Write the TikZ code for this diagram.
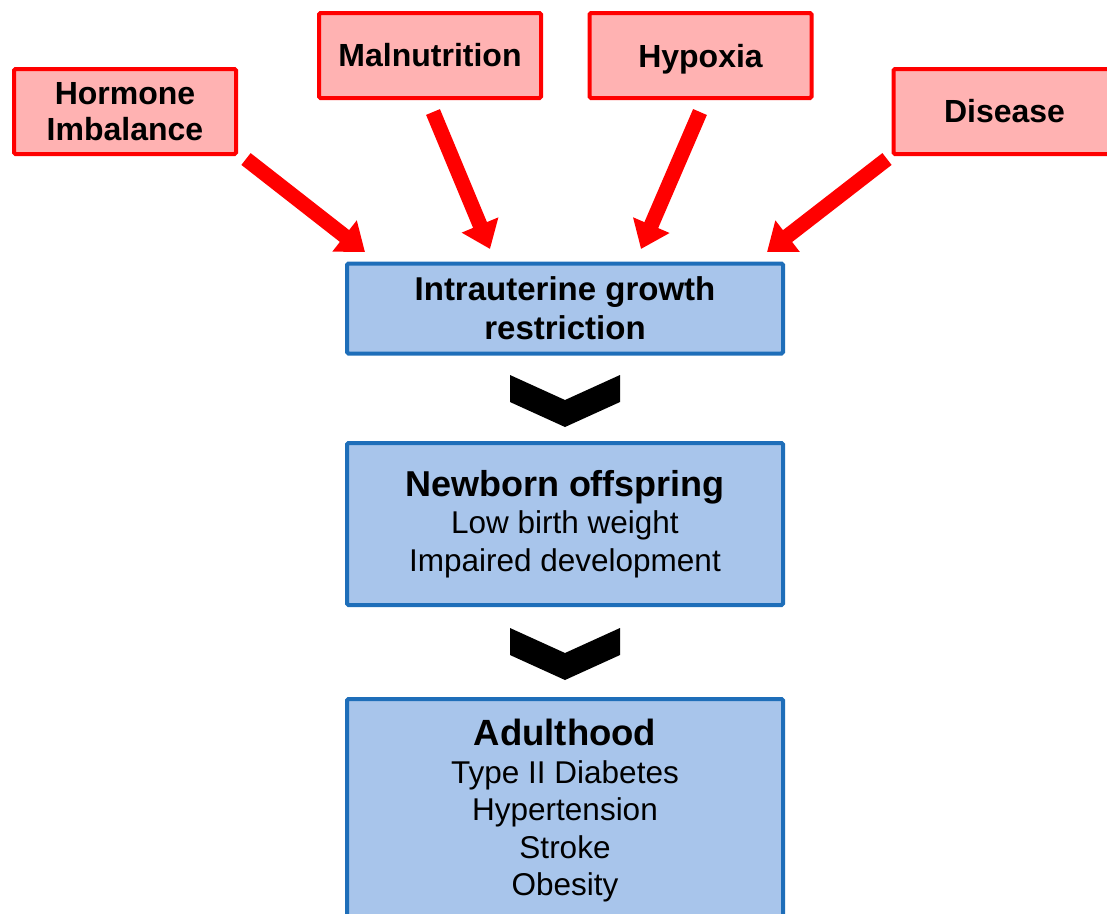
\documentclass[tikz,border=0pt]{standalone}
\usepackage{fontspec}
\setmainfont{Liberation Sans}
\usetikzlibrary{arrows.meta,calc}
\definecolor{boxred}{RGB}{255,0,0}
\definecolor{fillred}{RGB}{255,178,178}
\definecolor{boxblue}{RGB}{30,110,185}
\definecolor{fillblue}{RGB}{168,197,235}
\tikzset{
  causebox/.style={draw=boxred, fill=fillred, line width=4pt, minimum width=222pt, minimum height=85pt,
    inner sep=0pt, align=center, rounded corners=1.5pt, font=\bfseries\fontsize{32}{36}\selectfont},
  stagebox/.style={draw=boxblue, fill=fillblue, line width=4pt, minimum width=436pt,
    inner sep=0pt, align=center, rounded corners=1.5pt},
  redarrow/.style={draw=boxred, line width=15pt, -{Triangle[length=26pt,width=38pt]}},
  chevron/.style={fill=black, draw=none}
}
\begin{document}
\begin{tikzpicture}[x=1pt,y=-1pt]
\useasboundingbox (0,0) rectangle (1107,913);
\clip (0,0) rectangle (1107,913);
% cause boxes
\node[causebox] (hormone) at (125,111.5) {Hormone\\Imbalance};
\node[causebox] (malnut) at (430,55.5) {Malnutrition};
\node[causebox, text depth=0pt] (hypoxia) at (700.5,55.5) {Hypoxia};
\node[causebox] (disease) at (1004.5,111.5) {Disease};
% stage boxes
\node[stagebox, minimum height=90pt, font=\bfseries\fontsize{33}{39}\selectfont] (iugr) at (565,308.5) {Intrauterine growth\\restriction};
\node[stagebox, minimum height=162pt, font=\fontsize{31.5}{37.5}\selectfont] (newborn) at (565,524)
  {{\bfseries\fontsize{36}{37.5}\selectfont Newborn offspring}\\Low birth weight\\Impaired development};
\node[stagebox, minimum height=224pt, font=\fontsize{31.5}{37.5}\selectfont] (adult) at (565,811)
  {{\bfseries\fontsize{36.5}{37.5}\selectfont Adulthood}\\Type II Diabetes\\Hypertension\\Stroke\\Obesity};
% arrow end points
\coordinate (hs) at (246,159);
\coordinate (ht) at (365,252);
\coordinate (ms) at (433,112);
\coordinate (mt) at (490,249);
\coordinate (ys) at (700,112);
\coordinate (yt) at (641,249);
\coordinate (ds) at (887,159);
\coordinate (dt) at (767,252);
\draw[redarrow] (hs) -- (ht);
\draw[redarrow] (ms) -- (mt);
\draw[redarrow] (ys) -- (yt);
\draw[redarrow] (ds) -- (dt);
% chevrons
\coordinate (c1) at (565,375);
\coordinate (c2) at (565,628);
\foreach \c in {c1,c2}{
  \fill[chevron] ($(\c)+(-55,0)$) -- ($(\c)+(0,25)$) -- ($(\c)+(55,0)$) -- ($(\c)+(55,27)$)
    -- ($(\c)+(0,52)$) -- ($(\c)+(-55,27)$) -- cycle;
}
\end{tikzpicture}
\end{document}
